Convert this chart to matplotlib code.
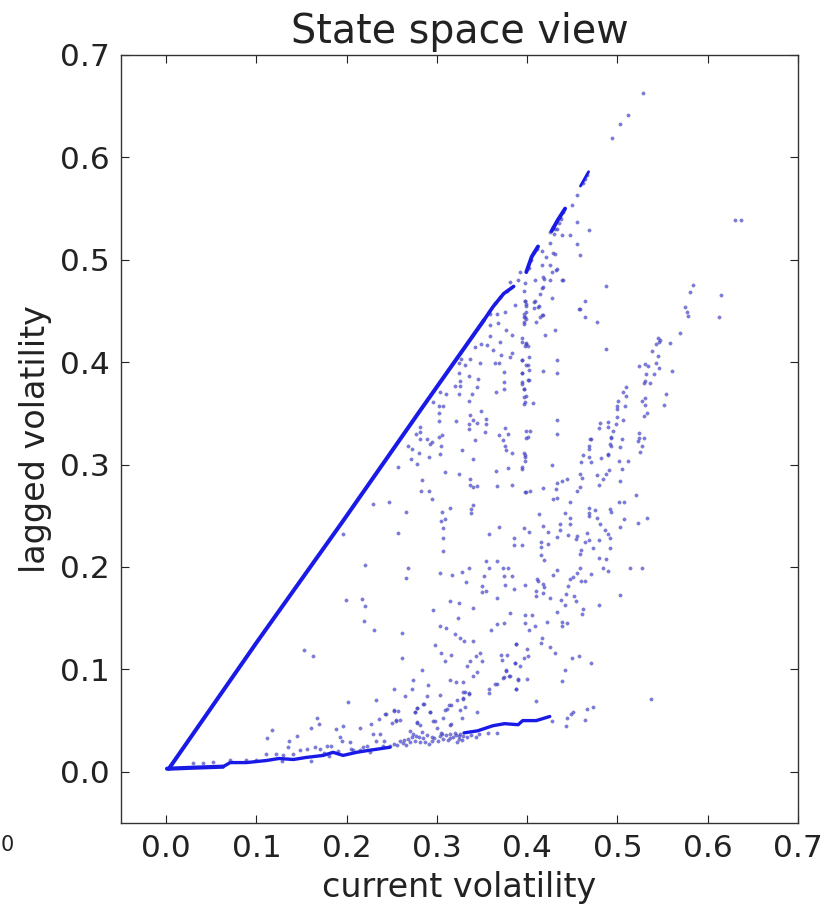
import numpy as np
import matplotlib
matplotlib.use("Agg")
import matplotlib.pyplot as plt

title = "State space view"
xlabel = "current volatility"
ylabel = "lagged volatility"
xticks = [0.0, 0.1, 0.2, 0.3, 0.4, 0.5, 0.6, 0.7]
yticks = [0.0, 0.1, 0.2, 0.3, 0.4, 0.5, 0.6, 0.7]

# dense ridges, read as continuous bands
upper_ridge_x = [0.003, 0.100, 0.196, 0.280, 0.352]
upper_ridge_y = [0.003, 0.126, 0.245, 0.351, 0.441]
upper_run1_x = [0.352, 0.362, 0.374, 0.385]
upper_run1_y = [0.441, 0.454, 0.467, 0.474]
upper_run2_x = [0.399, 0.405, 0.412]
upper_run2_y = [0.488, 0.503, 0.513]
upper_run3_x = [0.427, 0.434, 0.442]
upper_run3_y = [0.528, 0.539, 0.550]
upper_run4_x = [0.459, 0.468]
upper_run4_y = [0.572, 0.586]
floor_ridge_x = [0.001, 0.030, 0.063]
floor_ridge_y = [0.003, 0.004, 0.005]
lower_ridge_x = [0.063, 0.071, 0.089, 0.111, 0.125, 0.141, 0.155, 0.174, 0.185, 0.196, 0.211, 0.225, 0.233, 0.248]
lower_ridge_y = [0.005, 0.009, 0.009, 0.011, 0.013, 0.012, 0.014, 0.016, 0.019, 0.016, 0.019, 0.021, 0.022, 0.024]
far_ridge_x = [0.330, 0.345, 0.362, 0.375, 0.390, 0.395, 0.410, 0.425]
far_ridge_y = [0.038, 0.040, 0.045, 0.047, 0.046, 0.050, 0.050, 0.054]

ridge_top = [
(.375,.449),(.366,.447),(.359,.447),(.358,.449),(.364,.458),(.370,.464),(.378,.470),
(.402,.492),(.404,.500),(.408,.508),(.411,.511),
(.425,.527),(.430,.525),(.433,.530),(.429,.532),(.436,.542),(.431,.530),(.435,.536),(.437,.540),(.440,.547),
(.450,.554),(.455,.563),(.464,.579),(.466,.583),(.462,.575),
(.494,.619),(.503,.633),(.512,.641),(.528,.663),
]
under_ridge = [
(.386,.456),(.398,.460),(.399,.455),(.399,.449),(.397,.444),(.416,.446),(.412,.454),(.407,.459),(.396,.470),(.381,.478),
(.392,.488),(.390,.480),(.398,.477),(.409,.480),(.418,.483),(.416,.472),(.425,.480),(.440,.480),(.427,.463),(.464,.460),(.458,.452),
(.416,.509),(.425,.516),(.431,.506),(.421,.503),(.425,.495),(.416,.495),(.427,.488),(.433,.491),(.447,.524),(.455,.537),(.455,.515),(.459,.505),
(.469,.529),(.438,.524),(.429,.507),(.432,.490),(.419,.481),(.439,.480),(.418,.473),(.414,.467),(.487,.474),(.464,.444),(.457,.452),(.477,.439),
(.409,.460),(.408,.453),(.413,.455),(.398,.460),(.399,.457),(.396,.447),(.398,.444),(.399,.442),(.414,.444),(.410,.439),(.418,.446),(.396,.437),
(.431,.431),(.420,.427),(.394,.424),(.399,.419),(.401,.416),(.398,.416),(.487,.413),(.402,.405),(.394,.402),(.433,.402),(.399,.397),(.402,.392),
(.418,.391),(.433,.389),(.394,.389),(.402,.383),(.394,.379),(.396,.374),(.399,.367),(.398,.361),(.406,.360),(.433,.344),(.403,.333),(.401,.327),(.433,.330),
]
right_branch = [
(.510,.376),(.506,.371),(.509,.367),(.501,.362),(.499,.357),(.499,.354),(.508,.357),(.499,.346),(.498,.340),(.495,.333),(.493,.327),(.506,.344),
(.489,.342),(.481,.341),(.479,.336),(.489,.337),(.470,.325),(.524,.331),(.529,.326),(.524,.326),(.529,.347),(.533,.350),(.551,.358),(.554,.369),
(.531,.365),(.527,.362),(.530,.358),(.529,.380),(.536,.380),(.530,.382),(.541,.388),(.532,.388),(.560,.391),(.546,.394),(.524,.396),(.531,.398),(.534,.396),
(.543,.399),(.545,.406),(.538,.411),(.558,.419),(.545,.424),(.547,.422),(.543,.418),(.546,.420),(.569,.429),(.575,.454),(.577,.449),(.578,.445),(.612,.444),
(.580,.469),(.584,.475),(.615,.466),(.630,.539),(.637,.539),
]
mid_right = [
(.471,.325),(.468,.318),(.469,.315),(.462,.309),(.460,.303),(.469,.307),(.471,.303),(.482,.306),(.493,.326),(.492,.320),(.493,.318),(.490,.310),(.489,.309),
(.505,.325),(.503,.317),(.523,.323),(.527,.318),(.525,.312),(.502,.304),(.512,.304),(.505,.296),(.398,.309),(.398,.304),(.394,.296),(.427,.300),(.458,.291),(.461,.287),
(.477,.290),(.491,.295),(.487,.291),(.484,.286),(.479,.280),(.503,.284),(.444,.286),(.438,.284),(.433,.282),(.432,.276),(.418,.277),(.399,.273),(.403,.274),
(.458,.278),(.455,.274),(.429,.266),(.433,.267),(.447,.263),(.521,.270),(.502,.263),(.507,.263),(.468,.258),(.468,.253),(.475,.256),(.492,.257),(.493,.254),
(.413,.252),(.442,.253),(.447,.248),(.469,.250),(.477,.248),(.481,.242),(.507,.247),(.523,.243),(.533,.248),(.503,.239),(.417,.240),(.436,.242),(.436,.236),(.447,.242),
(.396,.238),(.402,.234),(.423,.234),(.486,.236),(.489,.232),(.466,.233),(.492,.228),(.445,.231),(.433,.229),(.455,.230),(.454,.227),(.469,.226),(.464,.224),(.479,.226),
(.415,.224),(.415,.220),(.423,.222),(.394,.221),(.460,.217),(.458,.213),(.473,.219),(.492,.219),(.415,.212),(.419,.207),(.480,.209),(.487,.208),(.514,.199),(.527,.199),
(.484,.199),(.490,.196),(.458,.199),(.455,.194),(.471,.193),(.433,.197),(.429,.192),(.447,.188),(.451,.190),(.460,.186),(.464,.186),(.411,.188),(.412,.186),(.417,.183),
(.419,.180),(.398,.182),(.445,.181),(.410,.177),(.410,.172),(.417,.175),(.503,.173),(.443,.174),(.425,.170),(.452,.172),(.454,.167),(.437,.168),(.442,.163),(.479,.163),
(.462,.159),(.461,.154),(.433,.156),(.398,.153),(.405,.153),(.422,.146),(.438,.146),(.444,.145),(.438,.142),(.398,.145),(.409,.142),(.402,.138),
]
mid_upper = [
(.359,.436),(.368,.438),(.377,.431),(.383,.427),(.397,.439),(.399,.418),(.394,.420),(.359,.426),(.370,.420),(.349,.418),(.355,.417),(.362,.412),(.342,.415),(.371,.407),
(.383,.409),(.381,.405),(.327,.403),(.337,.403),(.324,.399),(.331,.397),(.348,.399),(.364,.399),(.369,.399),(.394,.402),(.401,.397),(.324,.389),(.335,.387),(.326,.382),
(.346,.384),(.344,.376),(.374,.390),(.394,.389),(.374,.381),(.374,.374),(.394,.381),(.396,.374),(.401,.383),(.320,.377),(.326,.377),(.324,.369),(.339,.369),(.365,.371),
(.303,.371),(.310,.369),(.397,.366),(.397,.359),(.335,.362),(.296,.361),(.302,.357),(.307,.357),(.302,.350),(.302,.343),(.321,.343),(.349,.352),(.337,.348),(.340,.344),
(.344,.341),(.354,.345),(.354,.340),(.335,.340),(.335,.335),(.353,.332),(.281,.337),(.281,.332),(.277,.330),(.375,.336),(.379,.330),(.369,.329),(.399,.333),(.399,.326),
(.306,.329),(.302,.327),(.281,.325),(.289,.325),(.294,.322),(.292,.320),(.342,.324),(.373,.324),(.268,.318),(.272,.315),(.305,.318),(.328,.314),(.375,.318),(.376,.314),
(.383,.311),(.280,.311),(.303,.310),(.291,.307),(.396,.311),(.398,.307),(.271,.305),(.278,.301),(.340,.305),(.257,.298),(.394,.298),(.379,.297),(.309,.293),(.325,.291),
(.365,.294),(.337,.286),(.284,.285),(.337,.280),(.340,.278),(.344,.279),(.367,.279),(.383,.280),(.282,.274),(.291,.274),(.398,.273),(.294,.266),(.229,.262),(.247,.263),
(.314,.258),(.340,.261),(.338,.257),(.338,.253),(.266,.254),(.306,.254),(.309,.247),
]
mid_lower = [
(.305,.245),(.307,.238),(.307,.228),(.307,.216),(.257,.233),(.196,.232),(.369,.239),(.358,.232),(.385,.228),(.385,.221),(.354,.206),(.367,.206),(.220,.202),(.268,.199),
(.266,.189),(.358,.199),(.373,.199),(.379,.199),(.336,.199),(.328,.195),(.303,.194),(.317,.192),(.352,.191),(.374,.191),(.383,.191),(.332,.185),(.350,.181),(.350,.176),
(.354,.177),(.375,.182),(.385,.179),(.367,.170),(.199,.168),(.217,.169),(.220,.162),(.314,.167),(.324,.165),(.340,.160),(.296,.158),(.381,.155),(.323,.150),(.219,.147),
(.230,.138),(.261,.136),(.367,.144),(.374,.145),(.303,.142),(.310,.140),(.360,.138),(.320,.135),(.326,.131),(.330,.128),(.340,.128),(.388,.125),(.298,.124),(.153,.119),
(.163,.113),(.261,.111),(.305,.116),(.316,.114),(.309,.108),(.348,.116),(.343,.113),(.350,.108),(.371,.114),(.378,.114),(.372,.109),(.337,.108),(.333,.103),(.387,.106),
(.284,.099),(.344,.097),(.340,.094),(.377,.098),(.374,.093),(.381,.094),(.390,.090),(.314,.090),(.321,.088),(.329,.088),(.273,.090),(.290,.085),(.252,.081),(.272,.081),
(.364,.086),(.358,.081),(.358,.077),(.388,.081),(.329,.078),(.336,.077),(.303,.075),(.265,.074),(.289,.074),(.329,.071),(.322,.070),(.233,.070),(.201,.068),(.286,.066),
(.313,.065),(.309,.060),(.307,.053),(.278,.062),(.276,.058),(.252,.059),(.257,.059),(.326,.060),(.331,.063),(.344,.058),(.244,.056),(.292,.058),(.298,.050),(.167,.053),
(.169,.047),(.236,.052),(.250,.048),(.255,.050),(.259,.051),(.278,.049),(.196,.045),(.227,.047),(.328,.053),(.316,.047),(.161,.043),(.188,.042),(.215,.043),
(.537,.071),(.473,.063),(.466,.061),(.449,.056),(.451,.058),(.444,.053),(.464,.051),(.443,.045),(.427,.050),(.410,.069),(.442,.099),(.438,.089),(.388,.081),(.400,.091),
(.390,.091),(.471,.106),(.457,.113),(.450,.111),(.431,.116),(.425,.122),(.416,.131),(.415,.126),(.401,.113),(.396,.111),(.400,.120),(.388,.125),(.386,.106),(.392,.103),
(.377,.099),(.380,.094),(.373,.092),(.366,.086),
]
band_points = [
(.117,.041),(.112,.033),(.145,.035),(.136,.030),(.135,.024),(.148,.021),(.156,.022),(.165,.024),(.193,.034),(.195,.030),(.204,.029),(.229,.037),(.237,.037),(.233,.030),
(.241,.030),(.122,.017),(.130,.016),(.141,.017),(.170,.022),(.178,.025),(.183,.025),(.207,.021),(.215,.021),(.222,.025),(.030,.009),(.041,.009),(.052,.010),(.071,.012),
(.089,.012),(.100,.012),(.111,.017),(.128,.011),(.160,.011),(.175,.018),(.180,.015),(.190,.020),(.205,.022),(.218,.024),(.226,.019),(.240,.025),
(.274,.037),(.285,.033),(.294,.030),(.303,.035),(.314,.037),(.324,.035),(.270,.040),(.259,.030),(.248,.025),(.281,.029),(.307,.032),(.324,.032),(.357,.038),(.366,.038),
(.347,.037),(.329,.035),(.300,.043),(.314,.046),(.278,.048),(.281,.046),(.255,.051),(.243,.056),(.252,.060),(.276,.058),(.278,.062),(.285,.066),(.292,.058),(.296,.050),
(.311,.061),(.316,.065),(.329,.072),(.331,.078),(.335,.076),(.252,.027),(.256,.026),(.262,.028),(.268,.032),(.272,.034),(.277,.035),(.289,.036),(.297,.033),(.304,.038),
(.310,.036),(.318,.034),(.320,.038),(.326,.037),(.266,.026),(.276,.030),(.284,.039),(.291,.027),(.312,.031),(.322,.029),
(.264,.031),(.270,.029),(.280,.034),(.287,.029),(.295,.034),(.301,.030),(.306,.037),(.315,.033),(.321,.036),(.328,.031),(.333,.034),(.338,.036),(.343,.034),
]

scatter_groups = [ridge_top, under_ridge, right_branch, mid_right, mid_upper, mid_lower, band_points]

fig = plt.figure(figsize=(8.29, 9.06), dpi=100)
ax = fig.add_axes([121/829, 1-823/906, (798-121)/829, (823-55)/906])

ridges = [(upper_ridge_x, upper_ridge_y, 2.9), (floor_ridge_x, floor_ridge_y, 3.0),
          (lower_ridge_x, lower_ridge_y, 2.4), (far_ridge_x, far_ridge_y, 2.4),
          (upper_run1_x, upper_run1_y, 2.6), (upper_run2_x, upper_run2_y, 2.8),
          (upper_run3_x, upper_run3_y, 2.8), (upper_run4_x, upper_run4_y, 2.0)]
for rx, ry, lw in ridges:
    ax.plot(rx, ry, color="#1a1ae6", lw=lw, solid_capstyle="round", solid_joinstyle="round")

for group in scatter_groups:
    gx, gy = np.array(group).T
    ax.scatter(gx, gy, s=6, facecolor="#3a3ae0", edgecolor="#666688", linewidth=0.3, alpha=0.68)

ax.set_xlim(-0.05, 0.7)
ax.set_ylim(-0.05, 0.7)
ax.set_xticks(xticks)
ax.set_yticks(yticks)
ax.tick_params(direction="in", top=True, right=True, length=5.5, width=0.8,
               labelsize=22.5, pad=8, colors="#222222")
for s in ax.spines.values():
    s.set_linewidth(1.0)
    s.set_color("#333333")
ax.set_title(title, fontsize=28.5, color="#222222", pad=8.5)
ax.set_xlabel(xlabel, fontsize=24, color="#222222", labelpad=6)
ax.set_ylabel(ylabel, fontsize=24, color="#222222", labelpad=6)
fig.text(0.5/829, 1-845/906, "0", fontsize=15, color="#222222", ha="left", va="center")
fig.savefig("out.png", dpi=100)
